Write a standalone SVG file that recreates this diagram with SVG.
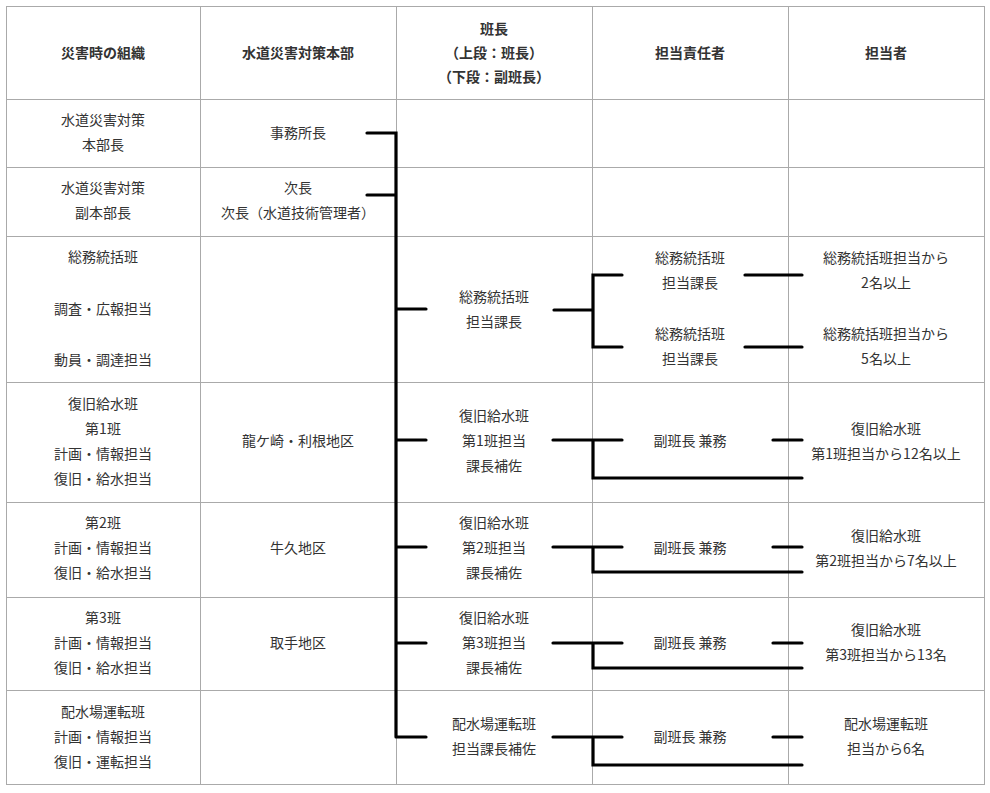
<svg xmlns="http://www.w3.org/2000/svg" width="990" height="793" viewBox="0 0 990 793">
<style>
.g{stroke:#aaa;stroke-width:1;fill:none}
.c{stroke:#000;stroke-width:3.2;fill:none;stroke-linecap:round;stroke-linejoin:miter}
text{font-family:"Noto Sans CJK JP","Noto Sans",sans-serif;font-size:14px;fill:#333;text-anchor:middle}
.h{font-weight:bold}
</style>
<rect width="990" height="793" fill="#fff"/>
<g id="grid">
<rect class="g" x="6.5" y="6.5" width="978" height="778"/>
<path class="g" d="M200.5 6V785M396.5 6V785M592.5 6V785M788.5 6V785M6 99.5H985M6 167.5H985M6 236.5H985M6 382.5H985M6 502.5H985M6 597.5H985M6 690.5H985"/>
</g>
<g id="header">
<text class="h" x="103" y="58">災害時の組織</text>
<text class="h" x="298" y="58">水道災害対策本部</text>
<text class="h" x="494" y="34">班長</text>
<text class="h" x="494" y="58">（上段：班長）</text>
<text class="h" x="494" y="82">（下段：副班長）</text>
<text class="h" x="690" y="58">担当責任者</text>
<text class="h" x="886" y="58">担当者</text>
</g>
<g id="col1">
<text x="103" y="125">水道災害対策</text><text x="103" y="150">本部長</text>
<text x="103" y="193">水道災害対策</text><text x="103" y="218">副本部長</text>
<text x="103" y="262">総務統括班</text><text x="103" y="314">調査・広報担当</text><text x="103" y="365">動員・調達担当</text>
<text x="103" y="409">復旧給水班</text><text x="103" y="434">第1班</text><text x="103" y="459">計画・情報担当</text><text x="103" y="484">復旧・給水担当</text>
<text x="103" y="528">第2班</text><text x="103" y="553">計画・情報担当</text><text x="103" y="578">復旧・給水担当</text>
<text x="103" y="623">第3班</text><text x="103" y="648">計画・情報担当</text><text x="103" y="673">復旧・給水担当</text>
<text x="103" y="717">配水場運転班</text><text x="103" y="742">計画・情報担当</text><text x="103" y="767">復旧・運転担当</text>
</g>
<g id="col2">
<text x="298" y="138">事務所長</text>
<text x="298" y="193">次長</text><text x="298" y="218">次長（水道技術管理者）</text>
<text x="298" y="446">龍ケ崎・利根地区</text>
<text x="298" y="553">牛久地区</text>
<text x="298" y="648">取手地区</text>
</g>
<g id="col3">
<text x="494" y="302">総務統括班</text><text x="494" y="327">担当課長</text>
<text x="494" y="421">復旧給水班</text><text x="494" y="446">第1班担当</text><text x="494" y="471">課長補佐</text>
<text x="494" y="528">復旧給水班</text><text x="494" y="553">第2班担当</text><text x="494" y="578">課長補佐</text>
<text x="494" y="623">復旧給水班</text><text x="494" y="648">第3班担当</text><text x="494" y="673">課長補佐</text>
<text x="494" y="729">配水場運転班</text><text x="494" y="754">担当課長補佐</text>
</g>
<g id="col4">
<text x="690" y="263">総務統括班</text><text x="690" y="288">担当課長</text>
<text x="690" y="339">総務統括班</text><text x="690" y="364">担当課長</text>
<text x="690" y="446">副班長 兼務</text>
<text x="690" y="553">副班長 兼務</text>
<text x="690" y="648">副班長 兼務</text>
<text x="690" y="742">副班長 兼務</text>
</g>
<g id="col5">
<text x="886" y="263">総務統括班担当から</text><text x="886" y="288">2名以上</text>
<text x="886" y="339">総務統括班担当から</text><text x="886" y="364">5名以上</text>
<text x="886" y="434">復旧給水班</text><text x="886" y="459">第1班担当から12名以上</text>
<text x="886" y="541">復旧給水班</text><text x="886" y="566">第2班担当から7名以上</text>
<text x="886" y="635">復旧給水班</text><text x="886" y="660">第3班担当から13名</text>
<text x="886" y="729">配水場運転班</text><text x="886" y="754">担当から6名</text>
</g>
<g id="connectors">
<path class="c" d="M367 133H396V737M367 195H396M396 309H426M396 440H426M396 547H426M396 643H426M396 737H426"/>
<path class="c" d="M554 310H593M622 275H593V347H622M745 275H802M745 347H802"/>
<path class="c" d="M553 440H622M593 440V478H802M773 440H802"/>
<path class="c" d="M553 547H622M593 547V572H802M773 547H802"/>
<path class="c" d="M553 643H622M593 643V668H802M773 643H802"/>
<path class="c" d="M553 737H622M593 737V765H802M773 737H802"/>
</g>
</svg>
